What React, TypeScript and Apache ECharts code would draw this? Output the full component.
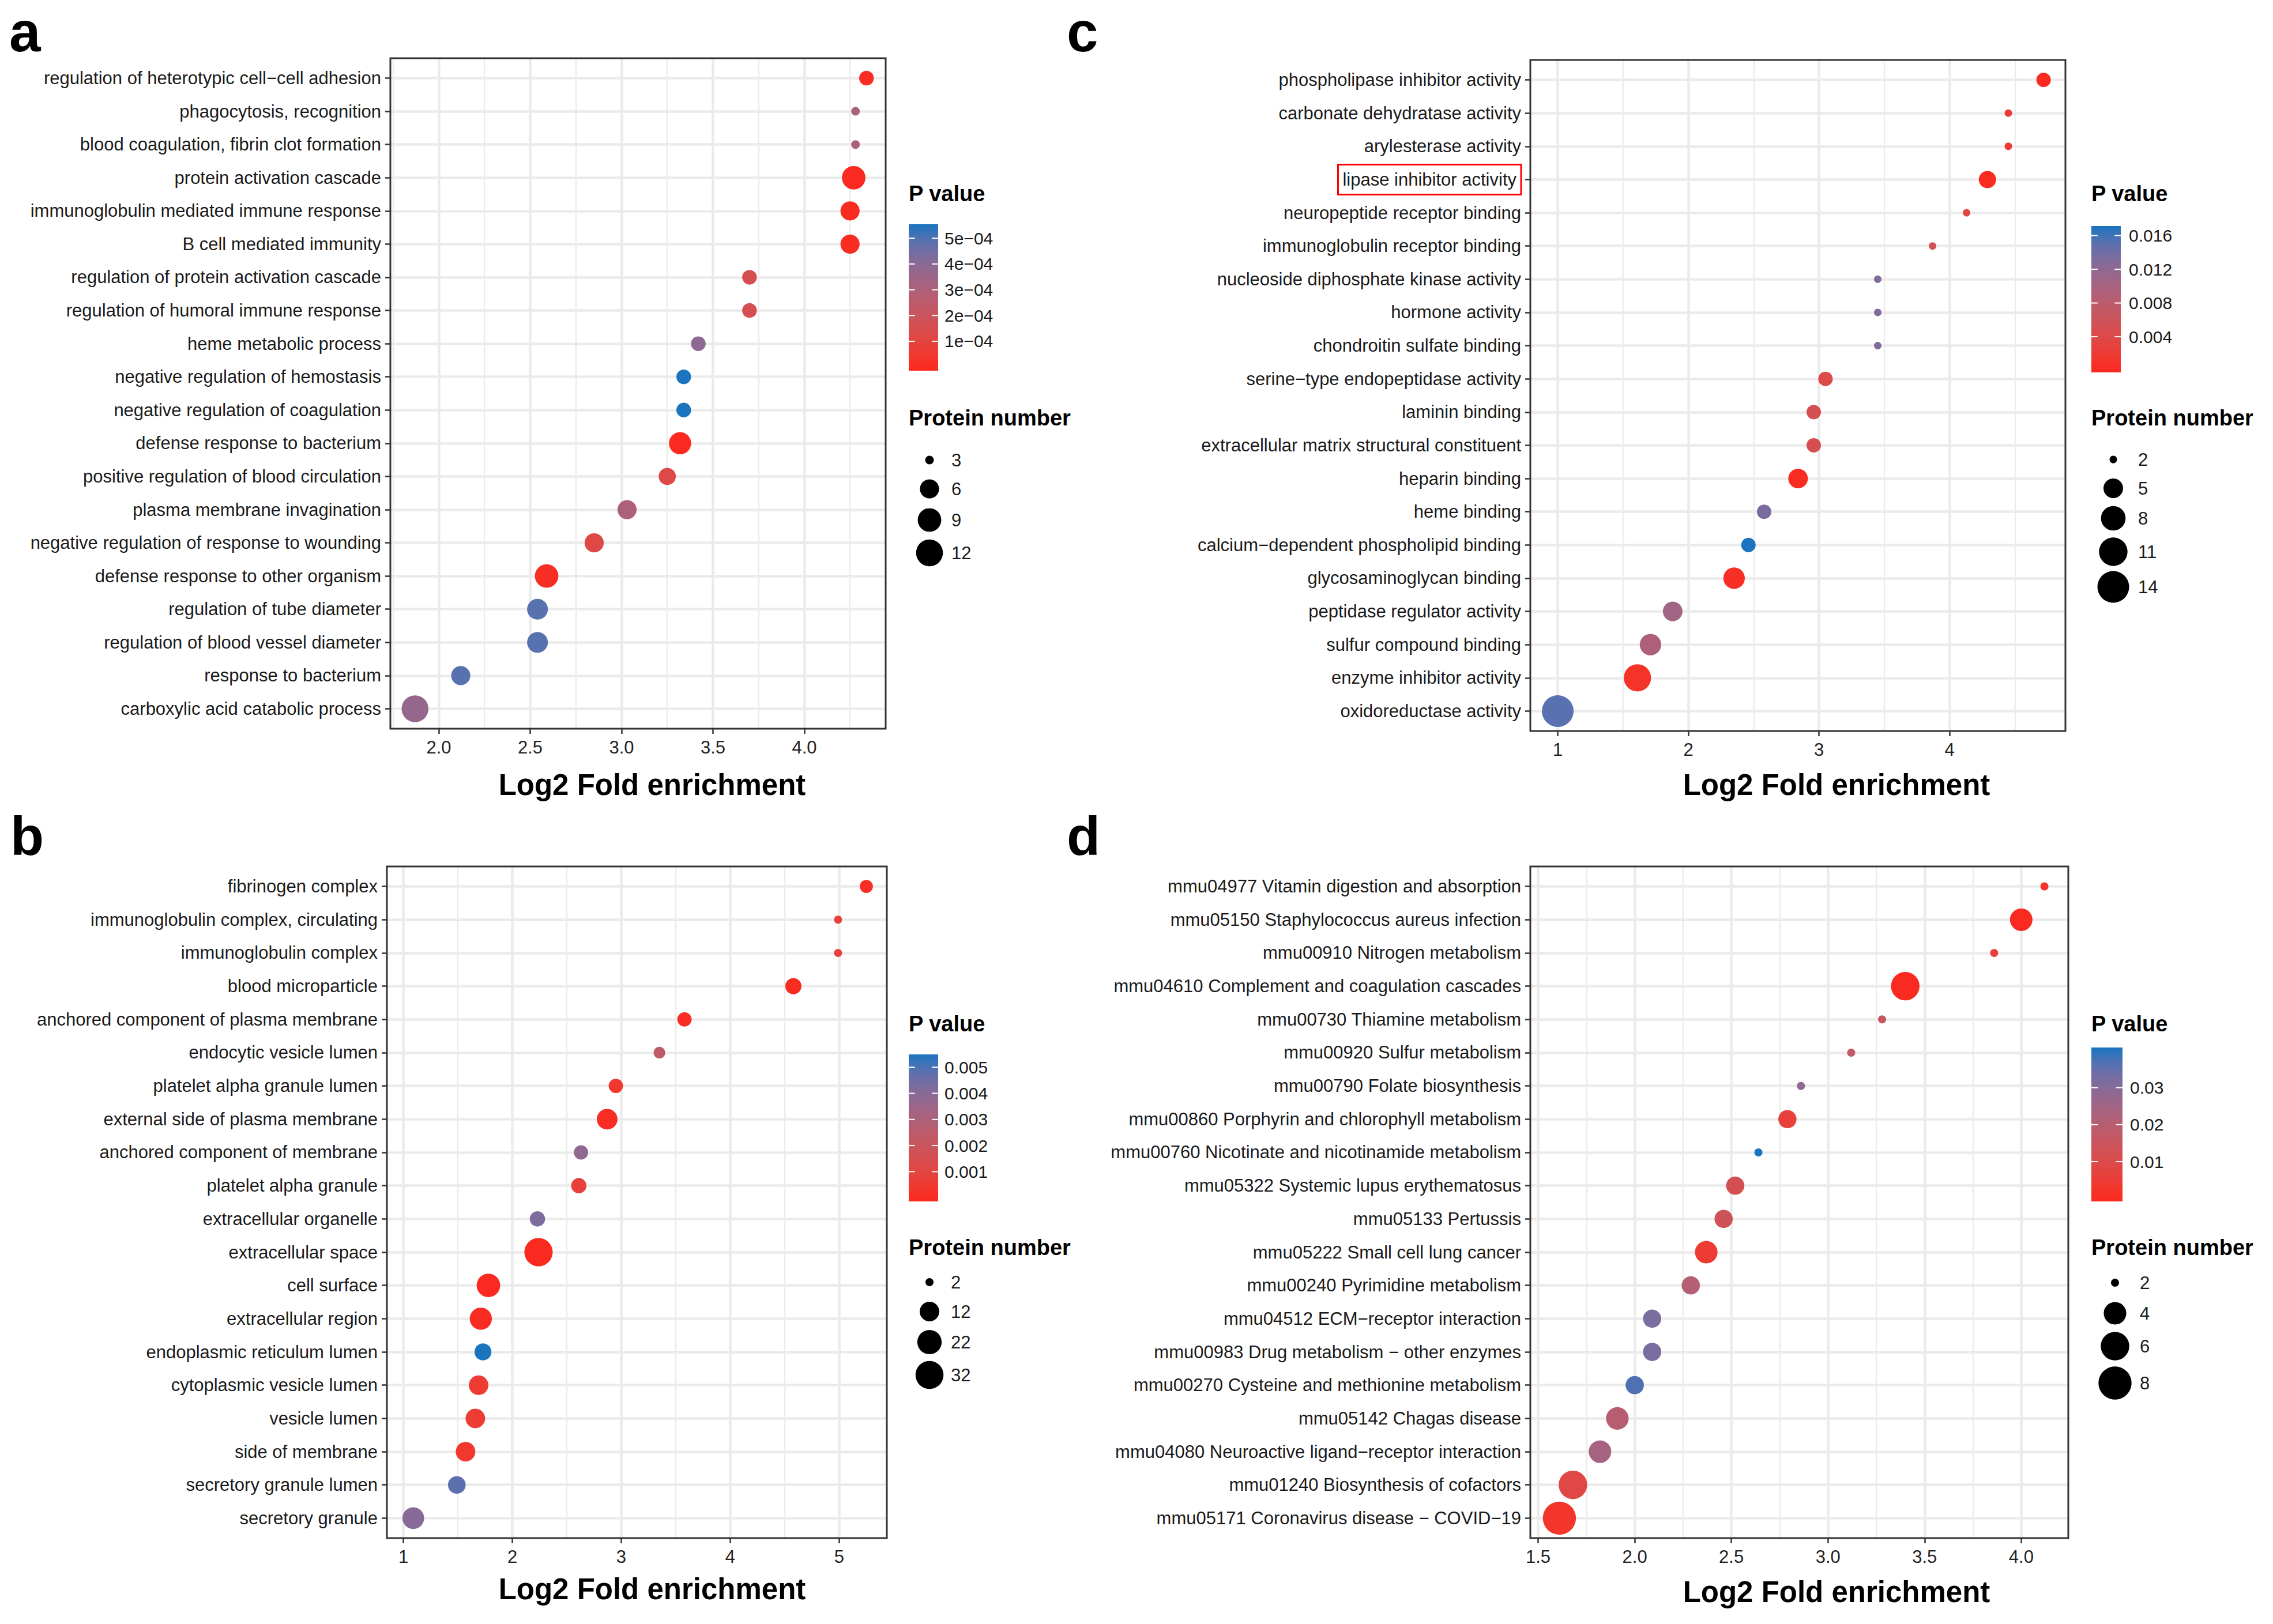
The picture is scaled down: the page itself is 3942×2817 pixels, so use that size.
import React, { useEffect, useRef } from "react";
import * as echarts from "echarts";

const W = 3942;
const H = 2817;
const FONT = '"Liberation Sans", Arial, Helvetica, sans-serif';

// ---------------- DATA ----------------
// Panel a
const aTerms = [
  "regulation of heterotypic cell\u2212cell adhesion",
  "phagocytosis, recognition",
  "blood coagulation, fibrin clot formation",
  "protein activation cascade",
  "immunoglobulin mediated immune response",
  "B cell mediated immunity",
  "regulation of protein activation cascade",
  "regulation of humoral immune response",
  "heme metabolic process",
  "negative regulation of hemostasis",
  "negative regulation of coagulation",
  "defense response to bacterium",
  "positive regulation of blood circulation",
  "plasma membrane invagination",
  "negative regulation of response to wounding",
  "defense response to other organism",
  "regulation of tube diameter",
  "regulation of blood vessel diameter",
  "response to bacterium",
  "carboxylic acid catabolic process",
];
const aFold = [4.34, 4.28, 4.28, 4.27, 4.25, 4.25, 3.7, 3.7, 3.42, 3.34, 3.34, 3.32, 3.25, 3.03, 2.85, 2.59, 2.54, 2.54, 2.12, 1.87];
const aCount = [4, 3, 3, 9, 6, 6, 4, 4, 4, 4, 4, 8, 5, 6, 6, 9, 7, 7, 6, 12];
const aPval = [1e-5, 3.0e-4, 3.0e-4, 1e-6, 5e-6, 5e-6, 1.6e-4, 1.6e-4, 3.9e-4, 5.4e-4, 5.4e-4, 1e-6, 1.2e-4, 3.0e-4, 1.2e-4, 1e-5, 4.9e-4, 4.9e-4, 4.9e-4, 3.7e-4];
const aXTicks = [2.0, 2.5, 3.0, 3.5, 4.0];
const aXMinor = [1.75, 2.25, 2.75, 3.25, 3.75, 4.25];
const aPRange = [0, 5.4e-4];
const aPTicks = [5e-4, 4e-4, 3e-4, 2e-4, 1e-4];
const aPTickLabels = ["5e\u221204", "4e\u221204", "3e\u221204", "2e\u221204", "1e\u221204"];
const aSizeBreaks = [3, 6, 9, 12];

// Panel b
const bTerms = [
  "fibrinogen complex",
  "immunoglobulin complex, circulating",
  "immunoglobulin complex",
  "blood microparticle",
  "anchored component of plasma membrane",
  "endocytic vesicle lumen",
  "platelet alpha granule lumen",
  "external side of plasma membrane",
  "anchored component of membrane",
  "platelet alpha granule",
  "extracellular organelle",
  "extracellular space",
  "cell surface",
  "extracellular region",
  "endoplasmic reticulum lumen",
  "cytoplasmic vesicle lumen",
  "vesicle lumen",
  "side of membrane",
  "secretory granule lumen",
  "secretory granule",
];
const bFold = [5.25, 4.99, 4.99, 4.58, 3.58, 3.35, 2.95, 2.87, 2.63, 2.61, 2.23, 2.24, 1.78, 1.71, 1.73, 1.69, 1.66, 1.57, 1.49, 1.09];
const bCount = [4, 2, 2, 7, 5, 3, 5, 14, 5, 6, 6, 33, 20, 17, 8, 12, 12, 12, 9, 16];
const bPval = [0.0001, 0.0008, 0.0008, 0.00005, 0.0001, 0.0024, 0.0004, 0.0001, 0.0038, 0.0008, 0.0042, 0.000001, 0.00001, 0.00005, 0.00535, 0.00055, 0.0006, 0.0004, 0.0048, 0.004];
const bXTicks = [1, 2, 3, 4, 5];
const bXMinor = [1.5, 2.5, 3.5, 4.5];
const bPRange = [0, 0.00535];
const bPTicks = [0.005, 0.004, 0.003, 0.002, 0.001];
const bPTickLabels = ["0.005", "0.004", "0.003", "0.002", "0.001"];
const bSizeBreaks = [2, 12, 22, 32];

// Panel c
const cTerms = [
  "phospholipase inhibitor activity",
  "carbonate dehydratase activity",
  "arylesterase activity",
  "lipase inhibitor activity",
  "neuropeptide receptor binding",
  "immunoglobulin receptor binding",
  "nucleoside diphosphate kinase activity",
  "hormone activity",
  "chondroitin sulfate binding",
  "serine\u2212type endopeptidase activity",
  "laminin binding",
  "extracellular matrix structural constituent",
  "heparin binding",
  "heme binding",
  "calcium\u2212dependent phospholipid binding",
  "glycosaminoglycan binding",
  "peptidase regulator activity",
  "sulfur compound binding",
  "enzyme inhibitor activity",
  "oxidoreductase activity",
];
const cFold = [4.72, 4.45, 4.45, 4.29, 4.13, 3.87, 3.45, 3.45, 3.45, 3.05, 2.96, 2.96, 2.84, 2.58, 2.46, 2.35, 1.88, 1.71, 1.61, 1.0];
const cCount = [3, 2, 2, 4, 2, 2, 2, 2, 2, 3, 3, 3, 5, 3, 3, 6, 5, 6, 10, 14];
const cPval = [0.0003, 0.0018, 0.0018, 0.0004, 0.0035, 0.0056, 0.013, 0.013, 0.013, 0.0043, 0.0051, 0.0051, 0.0004, 0.0134, 0.0167, 0.0006, 0.0104, 0.0093, 0.001, 0.0151];
const cXTicks = [1, 2, 3, 4];
const cXMinor = [1.5, 2.5, 3.5, 4.5];
const cPRange = [0.0002, 0.0167];
const cPTicks = [0.016, 0.012, 0.008, 0.004];
const cPTickLabels = ["0.016", "0.012", "0.008", "0.004"];
const cSizeBreaks = [2, 5, 8, 11, 14];
const cHighlighted = "lipase inhibitor activity";

// Panel d
const dTerms = [
  "mmu04977 Vitamin digestion and absorption",
  "mmu05150 Staphylococcus aureus infection",
  "mmu00910 Nitrogen metabolism",
  "mmu04610 Complement and coagulation cascades",
  "mmu00730 Thiamine metabolism",
  "mmu00920 Sulfur metabolism",
  "mmu00790 Folate biosynthesis",
  "mmu00860 Porphyrin and chlorophyll metabolism",
  "mmu00760 Nicotinate and nicotinamide metabolism",
  "mmu05322 Systemic lupus erythematosus",
  "mmu05133 Pertussis",
  "mmu05222 Small cell lung cancer",
  "mmu00240 Pyrimidine metabolism",
  "mmu04512 ECM\u2212receptor interaction",
  "mmu00983 Drug metabolism \u2212 other enzymes",
  "mmu00270 Cysteine and methionine metabolism",
  "mmu05142 Chagas disease",
  "mmu04080 Neuroactive ligand\u2212receptor interaction",
  "mmu01240 Biosynthesis of cofactors",
  "mmu05171 Coronavirus disease \u2212 COVID\u221219",
];
const dFold = [4.12, 4.0, 3.86, 3.4, 3.28, 3.12, 2.86, 2.79, 2.64, 2.52, 2.46, 2.37, 2.29, 2.09, 2.09, 2.0, 1.91, 1.82, 1.68, 1.61];
const dCount = [2, 4, 2, 6, 2, 2, 2, 3, 2, 3, 3, 4, 3, 3, 3, 3, 4, 4, 6, 8];
const dPval = [0.0023, 0.0005, 0.0062, 0.0003, 0.0153, 0.017, 0.0287, 0.0062, 0.0398, 0.0122, 0.014, 0.0043, 0.0208, 0.032, 0.032, 0.037, 0.02, 0.024, 0.009, 0.0027];
const dXTicks = [1.5, 2.0, 2.5, 3.0, 3.5, 4.0];
const dXMinor = [1.75, 2.25, 2.75, 3.25, 3.75];
const dPRange = [0.0003, 0.0398];
const dPTicks = [0.03, 0.02, 0.01];
const dPTickLabels = ["0.03", "0.02", "0.01"];
const dSizeBreaks = [2, 4, 6, 8];

const xTitle = "Log2 Fold enrichment";
const pTitle = "P value";
const sizeTitle = "Protein number";

// ---------------- COLOUR (Lab interpolation like ggplot2) ----------------
const LOW = "#FA2A20";
const HIGH = "#1A74BE";
function hexToRgb(h: string) {
  const n = parseInt(h.slice(1), 16);
  return [(n >> 16) & 255, (n >> 8) & 255, n & 255];
}
function s2l(c: number) {
  c /= 255;
  return c <= 0.04045 ? c / 12.92 : Math.pow((c + 0.055) / 1.055, 2.4);
}
function l2s(c: number) {
  const v = c <= 0.0031308 ? 12.92 * c : 1.055 * Math.pow(c, 1 / 2.4) - 0.055;
  return Math.round(Math.max(0, Math.min(1, v)) * 255);
}
function rgbToLab(rgb: number[]) {
  const R = s2l(rgb[0]), G = s2l(rgb[1]), B = s2l(rgb[2]);
  const X = (0.4124 * R + 0.3576 * G + 0.1805 * B) / 0.95047;
  const Y = 0.2126 * R + 0.7152 * G + 0.0722 * B;
  const Z = (0.0193 * R + 0.1192 * G + 0.9505 * B) / 1.08883;
  const f = (t: number) => (t > 0.008856 ? Math.cbrt(t) : 7.787 * t + 16 / 116);
  const fx = f(X), fy = f(Y), fz = f(Z);
  return [116 * fy - 16, 500 * (fx - fy), 200 * (fy - fz)];
}
function labToHex(lab: number[]) {
  const fy = (lab[0] + 16) / 116;
  const fx = fy + lab[1] / 500;
  const fz = fy - lab[2] / 200;
  const fi = (t: number) => (t * t * t > 0.008856 ? t * t * t : (t - 16 / 116) / 7.787);
  const X = fi(fx) * 0.95047, Y = fi(fy), Z = fi(fz) * 1.08883;
  const R = 3.2406 * X - 1.5372 * Y - 0.4986 * Z;
  const G = -0.9689 * X + 1.8758 * Y + 0.0415 * Z;
  const B = 0.0557 * X - 0.204 * Y + 1.057 * Z;
  const hx = (v: number) => v.toString(16).padStart(2, "0");
  return "#" + hx(l2s(R)) + hx(l2s(G)) + hx(l2s(B));
}
const LOW_LAB = rgbToLab(hexToRgb(LOW));
const HIGH_LAB = rgbToLab(hexToRgb(HIGH));
function gradColor(t: number) {
  const u = Math.max(0, Math.min(1, t));
  return labToHex([0, 1, 2].map((i) => LOW_LAB[i] + (HIGH_LAB[i] - LOW_LAB[i]) * u));
}

// ---------------- PANEL CONFIG (layout / style) ----------------
type SizeCfg = { vmin: number; dmin: number; k: number };
function sizeOf(cfg: SizeCfg, n: number) {
  return cfg.dmin + cfg.k * Math.sqrt(Math.max(0, n - cfg.vmin));
}

const panels = [
  {
    letter: "a", letterX: 16, letterY: 55, letterSize: 98,
    terms: aTerms, fold: aFold, count: aCount, pval: aPval,
    xTicks: aXTicks, xMinor: aXMinor, xMin: 1.735, xMax: 4.445, dec: 1,
    grid: { left: 677, top: 101, width: 859, height: 1163 },
    titleX: 1131, titleY: 1361,
    pRange: aPRange, pTicks: aPTicks, pTickLabels: aPTickLabels, sizeBreaks: aSizeBreaks,
    size: { vmin: 3, dmin: 15, k: 10.5 },
    leg: { x: 1576, pTitleY: 336, barTop: 389, barH: 254, barW: 51, labX: 1638, sTitleY: 725, entryY: [798, 848, 902, 959], dotX: 1612, sLabX: 1650 },
  },
  {
    letter: "c", letterX: 1850, letterY: 55, letterSize: 98,
    terms: cTerms, fold: cFold, count: cCount, pval: cPval,
    xTicks: cXTicks, xMinor: cXMinor, xMin: 0.79, xMax: 4.887, dec: 0,
    grid: { left: 2654, top: 104, width: 928, height: 1164 },
    titleX: 3185, titleY: 1361,
    pRange: cPRange, pTicks: cPTicks, pTickLabels: cPTickLabels, sizeBreaks: cSizeBreaks,
    size: { vmin: 2, dmin: 13, k: 12.1 },
    leg: { x: 3627, pTitleY: 336, barTop: 392, barH: 254, barW: 51, labX: 3692, sTitleY: 725, entryY: [797, 847, 899, 957, 1018], dotX: 3665, sLabX: 3708 },
  },
  {
    letter: "b", letterX: 18, letterY: 1450, letterSize: 95,
    terms: bTerms, fold: bFold, count: bCount, pval: bPval,
    xTicks: bXTicks, xMinor: bXMinor, xMin: 0.848, xMax: 5.438, dec: 0,
    grid: { left: 671, top: 1503, width: 867, height: 1165 },
    titleX: 1131, titleY: 2756,
    pRange: bPRange, pTicks: bPTicks, pTickLabels: bPTickLabels, sizeBreaks: bSizeBreaks,
    size: { vmin: 2, dmin: 14, k: 6.3 },
    leg: { x: 1576, pTitleY: 1776, barTop: 1829, barH: 255, barW: 51, labX: 1638, sTitleY: 2164, entryY: [2224, 2275, 2328, 2385], dotX: 1612, sLabX: 1649 },
  },
  {
    letter: "d", letterX: 1850, letterY: 1450, letterSize: 95,
    terms: dTerms, fold: dFold, count: dCount, pval: dPval,
    xTicks: dXTicks, xMinor: dXMinor, xMin: 1.4596, xMax: 4.2437, dec: 1,
    grid: { left: 2654, top: 1503, width: 933, height: 1165 },
    titleX: 3185, titleY: 2761,
    pRange: dPRange, pTicks: dPTicks, pTickLabels: dPTickLabels, sizeBreaks: dSizeBreaks,
    size: { vmin: 2, dmin: 14, k: 17.7 },
    leg: { x: 3627, pTitleY: 1776, barTop: 1817, barH: 267, barW: 54, labX: 3694, sTitleY: 2164, entryY: [2225, 2278, 2335, 2399], dotX: 3668, sLabX: 3711 },
  },
];

const GRID_COL = "#EBEBEB";
const AXIS_COL = "#333333";
const TEXT_COL = "#1a1a1a";

function buildOption() {
  const grids: any[] = [];
  const xAxes: any[] = [];
  const yAxes: any[] = [];
  const series: any[] = [];
  const graphics: any[] = [];

  panels.forEach((p, k) => {
    const idx = p.terms.map((_, i) => i);
    const isC = p.letter === "c";
    grids.push({
      left: p.grid.left, top: p.grid.top, width: p.grid.width, height: p.grid.height,
      show: true, borderColor: AXIS_COL, borderWidth: 3, backgroundColor: "transparent",
      z: 3, containLabel: false, outerBoundsMode: "none",
    });
    xAxes.push({
      type: "value", gridIndex: k, min: p.xMin, max: p.xMax, position: "bottom",
      axisLine: { show: false, onZero: false },
      axisTick: { show: true, length: 9, lineStyle: { color: AXIS_COL, width: 2.5 }, customValues: p.xTicks },
      axisLabel: {
        show: true, customValues: p.xTicks, margin: 17, fontSize: 31, fontFamily: FONT, color: "#222",
        formatter: (v: number) => (p.dec ? v.toFixed(p.dec) : String(Math.round(v))),
      },
      splitLine: { show: true, lineStyle: { color: GRID_COL, width: 4.5 } },
    });
    xAxes.push({
      type: "value", gridIndex: k, min: p.xMin, max: p.xMax, position: "top",
      axisLine: { show: false, onZero: false },
      axisTick: { show: false, customValues: p.xMinor },
      axisLabel: { show: false, customValues: p.xMinor },
      splitLine: { show: true, lineStyle: { color: GRID_COL, width: 2.3 } },
    });
    yAxes.push({
      type: "value", gridIndex: k, min: -0.6, max: 19.6, inverse: true,
      axisLine: { show: false, onZero: false },
      axisTick: { show: true, length: 9, lineStyle: { color: AXIS_COL, width: 2.5 }, customValues: idx },
      axisLabel: {
        show: true, customValues: idx, margin: 16, fontSize: 31, fontFamily: FONT, color: TEXT_COL,
        formatter: (v: number) => {
          const t = p.terms[Math.round(v)] ?? "";
          return isC && t === cHighlighted ? "{box|" + t + "}" : t;
        },
        rich: {
          box: {
            borderColor: "#FF0000", borderWidth: 3, padding: [11, 8, 10, 8],
            fontSize: 31, fontFamily: FONT, color: TEXT_COL,
          },
        },
      },
      splitLine: { show: true, lineStyle: { color: GRID_COL, width: 4.5 } },
    });

    const pr = p.pRange;
    series.push({
      type: "scatter",
      xAxisIndex: 2 * k,
      yAxisIndex: k,
      z: 4,
      silent: true,
      data: p.terms.map((_, i) => [p.fold[i], i, p.count[i], p.pval[i]]),
      symbol: "circle",
      symbolSize: (v: number[]) => sizeOf(p.size, v[2]),
      itemStyle: {
        opacity: 1,
        color: (params: any) => gradColor((params.value[3] - pr[0]) / (pr[1] - pr[0])),
      },
    });

    // panel letter
    graphics.push({
      type: "text", x: p.letterX, y: p.letterY,
      style: { text: p.letter, fill: "#000", fontSize: p.letterSize, fontWeight: "bold", fontFamily: FONT, textAlign: "left", textVerticalAlign: "middle" },
    });
    // axis title
    graphics.push({
      type: "text", x: p.titleX, y: p.titleY,
      style: { text: xTitle, fill: "#000", fontSize: 51, fontWeight: "bold", fontFamily: FONT, textAlign: "center", textVerticalAlign: "middle" },
    });

    // colour legend
    const L = p.leg;
    graphics.push({
      type: "text", x: L.x, y: L.pTitleY,
      style: { text: pTitle, fill: "#000", fontSize: 38, fontWeight: "bold", fontFamily: FONT, textAlign: "left", textVerticalAlign: "middle" },
    });
    const stops: any[] = [];
    for (let s = 0; s <= 20; s++) {
      const o = s / 20;
      const t = ((1 - o) * 20 - 0.5) / 19;
      stops.push({ offset: o, color: gradColor(t) });
    }
    graphics.push({
      type: "rect",
      shape: { x: L.x, y: L.barTop, width: L.barW, height: L.barH },
      style: { fill: new echarts.graphic.LinearGradient(0, 0, 0, 1, stops), stroke: "none" },
    });
    p.pTicks.forEach((pv, j) => {
      const t = (pv - pr[0]) / (pr[1] - pr[0]);
      const y = L.barTop + L.barH * (1 - (0.5 + 19 * t) / 20);
      graphics.push({ type: "line", shape: { x1: L.x, y1: y, x2: L.x + L.barW * 0.21, y2: y }, style: { stroke: "#fff", lineWidth: 2 } });
      graphics.push({ type: "line", shape: { x1: L.x + L.barW * 0.79, y1: y, x2: L.x + L.barW, y2: y }, style: { stroke: "#fff", lineWidth: 2 } });
      graphics.push({
        type: "text", x: L.labX, y,
        style: { text: p.pTickLabels[j], fill: TEXT_COL, fontSize: 30, fontFamily: FONT, textAlign: "left", textVerticalAlign: "middle" },
      });
    });

    // size legend
    graphics.push({
      type: "text", x: L.x, y: L.sTitleY,
      style: { text: sizeTitle, fill: "#000", fontSize: 38, fontWeight: "bold", fontFamily: FONT, textAlign: "left", textVerticalAlign: "middle" },
    });
    p.sizeBreaks.forEach((n, j) => {
      const y = L.entryY[j];
      graphics.push({ type: "circle", shape: { cx: L.dotX, cy: y, r: sizeOf(p.size, n) / 2 }, style: { fill: "#000" } });
      graphics.push({
        type: "text", x: L.sLabX, y,
        style: { text: String(n), fill: TEXT_COL, fontSize: 31, fontFamily: FONT, textAlign: "left", textVerticalAlign: "middle" },
      });
    });
  });

  return {
    animation: false,
    backgroundColor: "#ffffff",
    textStyle: { fontFamily: FONT },
    grid: grids,
    xAxis: xAxes,
    yAxis: yAxes,
    series,
    graphic: { elements: graphics },
  };
}

export default function App() {
  const ref = useRef<HTMLDivElement>(null);
  useEffect(() => {
    if (!ref.current) return;
    const chart = echarts.init(ref.current, null, { renderer: "svg", width: W, height: H });
    chart.setOption(buildOption() as any);
    return () => chart.dispose();
  }, []);
  return (
    <div
      ref={ref}
      style={{ position: "fixed", left: 0, top: 0, width: W, height: H, background: "#fff" }}
    />
  );
}
